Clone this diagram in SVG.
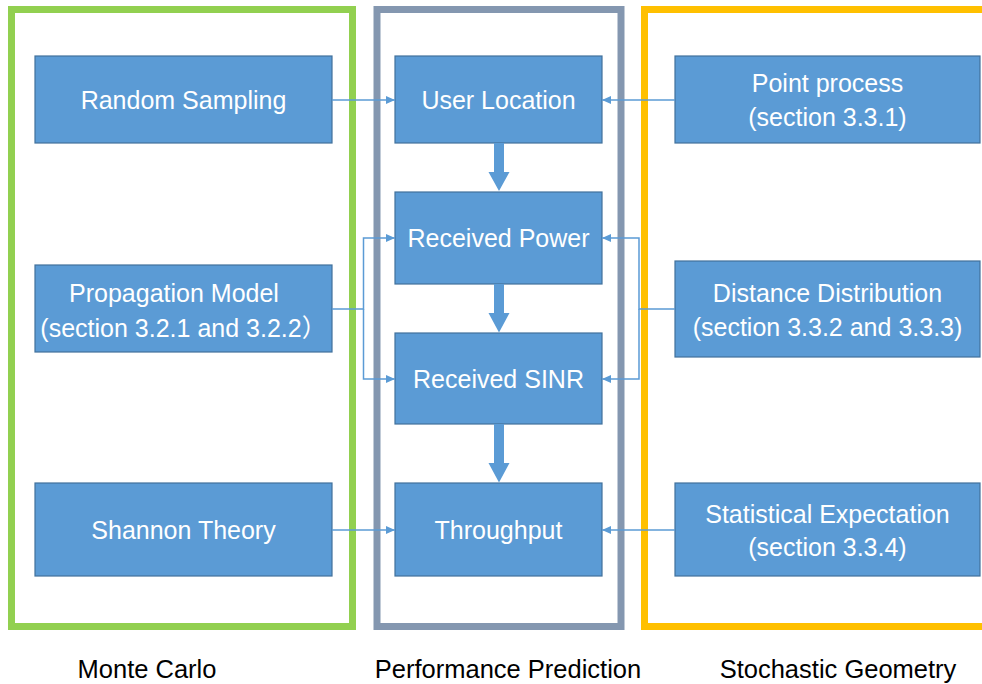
<svg xmlns="http://www.w3.org/2000/svg" width="982" height="684" viewBox="0 0 982 684">
  <defs>
    <style>
      .frame { fill: none; stroke-width: 7; }
      .box { fill: #5B9BD5; stroke: #41719C; stroke-width: 1.2; }
      .lbl { font-family: "Liberation Sans", Arial, "Noto Sans CJK SC", sans-serif; font-size: 25px; fill: #FFFFFF; text-anchor: middle; }
      .cap { font-family: "Liberation Sans", Arial, sans-serif; font-size: 25.5px; fill: #000000; text-anchor: middle; }
      .thin { fill: none; stroke: #5B9BD5; stroke-width: 1.5; }
      .thick { fill: #5B9BD5; stroke: none; }
    </style>
    <marker id="tip" markerWidth="10" markerHeight="10" refX="9" refY="5" orient="auto" markerUnits="userSpaceOnUse">
      <path d="M0,1 L9,5 L0,9 Z" fill="#5B9BD5"/>
    </marker>
  </defs>

  <rect width="982" height="684" fill="#FFFFFF"/>

  <!-- group frames -->
  <g id="frames">
    <rect class="frame" x="11.5" y="9.5" width="341" height="617" stroke="#92D050"/>
    <rect class="frame" x="377" y="9.5" width="244" height="617" stroke="#8497B0"/>
    <rect class="frame" x="644.5" y="9.5" width="400" height="617" stroke="#FFC000"/>
  </g>

  <!-- Monte Carlo column -->
  <g id="random-sampling">
    <rect class="box" x="35" y="56" width="297" height="87"/>
    <text class="lbl" x="183.5" y="108.5">Random Sampling</text>
  </g>
  <g id="propagation-model">
    <rect class="box" x="35" y="265" width="297" height="87"/>
    <text class="lbl" x="174" y="302">Propagation Model</text>
    <text class="lbl" x="183.5" y="337">(section 3.2.1 and 3.2.2）</text>
  </g>
  <g id="shannon-theory">
    <rect class="box" x="35" y="483" width="297" height="93"/>
    <text class="lbl" x="183.5" y="539">Shannon Theory</text>
  </g>

  <!-- Performance Prediction column -->
  <g id="user-location">
    <rect class="box" x="395" y="56" width="207" height="87"/>
    <text class="lbl" x="498.5" y="108.5">User Location</text>
  </g>
  <g id="received-power">
    <rect class="box" x="395" y="192" width="207" height="92"/>
    <text class="lbl" x="498.5" y="247">Received Power</text>
  </g>
  <g id="received-sinr">
    <rect class="box" x="395" y="333" width="207" height="91"/>
    <text class="lbl" x="498.5" y="387.5">Received SINR</text>
  </g>
  <g id="throughput">
    <rect class="box" x="395" y="483" width="207" height="93"/>
    <text class="lbl" x="498.5" y="539">Throughput</text>
  </g>

  <!-- Stochastic Geometry column -->
  <g id="point-process">
    <rect class="box" x="675" y="56" width="305" height="87"/>
    <text class="lbl" x="827.5" y="92">Point process</text>
    <text class="lbl" x="827.5" y="126">(section 3.3.1)</text>
  </g>
  <g id="distance-distribution">
    <rect class="box" x="675" y="261" width="305" height="96"/>
    <text class="lbl" x="827.5" y="301.5">Distance Distribution</text>
    <text class="lbl" x="827.5" y="336">(section 3.3.2 and 3.3.3)</text>
  </g>
  <g id="statistical-expectation">
    <rect class="box" x="675" y="483" width="305" height="93"/>
    <text class="lbl" x="827.5" y="522.5">Statistical Expectation</text>
    <text class="lbl" x="827.5" y="556">(section 3.3.4)</text>
  </g>

  <!-- connectors -->
  <g id="connectors">
    <!-- left inputs -->
    <path class="thin" d="M332,100 H395" marker-end="url(#tip)"/>
    <path class="thin" d="M332,309 H363.5 V238 H395" marker-end="url(#tip)"/>
    <path class="thin" d="M363.5,309 V379 H395" marker-end="url(#tip)"/>
    <path class="thin" d="M332,530 H395" marker-end="url(#tip)"/>
    <!-- right inputs -->
    <path class="thin" d="M675,100 H602" marker-end="url(#tip)"/>
    <path class="thin" d="M675,309 H639 V238 H602" marker-end="url(#tip)"/>
    <path class="thin" d="M639,309 V379 H602" marker-end="url(#tip)"/>
    <path class="thin" d="M675,530 H602" marker-end="url(#tip)"/>
    <!-- main flow -->
    <path class="thick" d="M494,143 H504 V172 H509.5 L499,191 L488.5,172 H494 Z"/>
    <path class="thick" d="M494,284 H504 V313 H509.5 L499,332.5 L488.5,313 H494 Z"/>
    <path class="thick" d="M494,424 H504 V463 H509.5 L499,482.5 L488.5,463 H494 Z"/>
  </g>

  <!-- column captions -->
  <g id="captions">
    <text class="cap" x="147" y="678">Monte Carlo</text>
    <text class="cap" x="508" y="678">Performance Prediction</text>
    <text class="cap" x="838" y="678">Stochastic Geometry</text>
  </g>
</svg>
